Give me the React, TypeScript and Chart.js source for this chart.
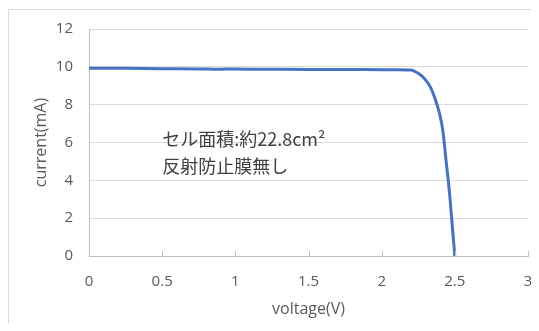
import React, { useEffect, useRef } from "react";
import { Chart, registerables } from "chart.js";

Chart.register(...registerables);

const voltage = [0, 0.25, 0.5, 0.75, 0.9, 0.95, 1.0, 1.25, 1.5, 1.75, 2.0, 2.1, 2.2, 2.24, 2.27, 2.305, 2.335, 2.362, 2.396, 2.418, 2.44, 2.464, 2.483, 2.5];
const current = [9.93, 9.92, 9.9, 9.89, 9.87, 9.89, 9.88, 9.87, 9.86, 9.86, 9.85, 9.85, 9.83, 9.7, 9.55, 9.26, 8.9, 8.38, 7.51, 6.63, 5.05, 3.3, 1.54, 0];
const annotationLines = ["セル面積:約22.8cm²", "反射防止膜無し"];
const xTitle = "voltage(V)";
const yTitle = "current(mA)";

const FONT = "'Open Sans', 'Noto Sans', sans-serif";
const JP_FONT = "'Noto Sans CJK JP', 'Noto Sans', sans-serif";
const TEXT = "#595959";
const GRID = "#d9d9d9";
const AXIS = "#bfbfbf";

const insideTicks = {
  id: "insideTicks",
  afterDatasetsDraw(chart: any) {
    const x = chart.scales.x;
    const ctx = chart.ctx;
    const bottom = chart.chartArea.bottom;
    ctx.save();
    ctx.strokeStyle = AXIS;
    ctx.lineWidth = 1;
    x.ticks.forEach((t: any) => {
      const px = Math.round(x.getPixelForValue(t.value)) + 0.5;
      ctx.beginPath();
      ctx.moveTo(px, bottom);
      ctx.lineTo(px, bottom - 5);
      ctx.stroke();
    });
    ctx.restore();
  },
};

const annotation = {
  id: "annotation",
  afterDraw(chart: any) {
    const x = chart.scales.x;
    const y = chart.scales.y;
    const ctx = chart.ctx;
    ctx.save();
    ctx.fillStyle = "#404040";
    ctx.font = `18px ${JP_FONT}`;
    ctx.textBaseline = "middle";
    ctx.textAlign = "left";
    const left = x.getPixelForValue(0.5);
    ctx.fillText(annotationLines[0], left, y.getPixelForValue(6.16));
    ctx.fillText(annotationLines[1], left, y.getPixelForValue(4.74));
    ctx.restore();
  },
};

export default function App() {
  const ref = useRef<HTMLCanvasElement>(null);
  useEffect(() => {
    if (!ref.current) return;
    const chart = new Chart(ref.current, {
      type: "scatter",
      data: {
        datasets: [
          {
            data: voltage.map((v, i) => ({ x: v, y: current[i] })),
            showLine: true,
            borderColor: "#4472c4",
            borderWidth: 3,
            pointRadius: 0,
            cubicInterpolationMode: "monotone",
            fill: false,
          },
        ],
      },
      options: {
        animation: false,
        responsive: false,
        maintainAspectRatio: false,
        layout: { padding: { top: 21, right: 3, left: 0, bottom: 0 } },
        plugins: { legend: { display: false }, tooltip: { enabled: false } },
        scales: {
          x: {
            type: "linear",
            min: 0,
            max: 3,
            afterFit: (s: any) => {
              s.height = 67;
              s.paddingLeft = 0;
              s.paddingRight = 0;
            },
            ticks: {
              stepSize: 0.5,
              color: TEXT,
              font: { family: FONT, size: 15 },
              padding: 17,
              callback: (v: any) => String(Number(v)),
            },
            grid: { drawOnChartArea: false, drawTicks: false },
            border: { display: true, color: AXIS },
            title: {
              display: true,
              text: xTitle,
              color: TEXT,
              font: { family: FONT, size: 16 },
              padding: { top: 0, bottom: 4 },
            },
          },
          y: {
            type: "linear",
            min: 0,
            max: 12,
            afterFit: (s: any) => {
              s.width = 81;
              s.paddingTop = 0;
              s.paddingBottom = 0;
            },
            ticks: { stepSize: 2, color: TEXT, font: { family: FONT, size: 15 }, padding: 16 },
            grid: { color: GRID, drawTicks: false },
            border: { display: true, color: AXIS },
            title: {
              display: true,
              text: yTitle,
              color: TEXT,
              font: { family: FONT, size: 16 },
              padding: { top: 24, bottom: 0 },
            },
          },
        },
      },
      plugins: [insideTicks, annotation],
    } as any);
    return () => chart.destroy();
  }, []);

  return (
    <div style={{ position: "relative", width: 523, height: 315 }}>
      <div
        style={{
          position: "absolute",
          left: 0,
          top: 1,
          width: 523,
          height: 314,
          borderTop: `1px solid ${GRID}`,
          borderLeft: `1px solid ${GRID}`,
          boxSizing: "border-box",
        }}
      />
      <canvas ref={ref} width={523} height={315} style={{ position: "absolute", left: 0, top: 0, width: 523, height: 315 }} />
    </div>
  );
}
